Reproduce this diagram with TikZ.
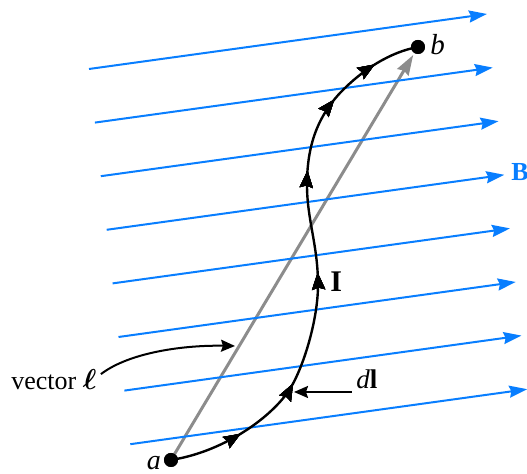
\documentclass[tikz,border=0pt]{standalone}
\usepackage{fontspec}
\setmainfont{Liberation Serif}
\usepackage{amsmath,amsbsy}
\usetikzlibrary{arrows.meta,decorations.markings}
\definecolor{fieldblue}{RGB}{8,126,255}
\definecolor{vecgray}{RGB}{140,140,140}
\tikzset{
  fieldline/.style={draw=fieldblue, line width=1pt, -{Stealth[length=9pt,width=6pt,inset=1pt]}},
  graytip/.style={draw=vecgray, line width=1.5pt, -{Stealth[length=10pt,width=6.5pt,inset=1pt]}},
  blacktip/.style={-{Stealth[length=7pt,width=6pt,inset=1pt]}},
  dotnode/.style={circle, fill=black, inner sep=0pt, minimum size=7pt},
  pathline/.style={draw=black, line width=1.2pt},
  curvetip/.style={decoration={markings, mark=at position #1 with {\arrow{Stealth[length=8.5pt,width=6.5pt,inset=1pt]}}}, postaction=decorate},
}
\begin{document}
\begin{tikzpicture}[x=0.5pt,y=-0.5pt]
\useasboundingbox (0,0) rectangle (527,474);

% end points
\node[dotnode] (a) at (171,460) {};
\node[dotnode] (b) at (418,47) {};

% vector l (gray)
\draw[graytip, shorten >=1pt] (a.center) -- (b);

% field lines
\foreach \i in {0,...,7}
  \draw[fieldline] ({89+5.9*\i},{69+53.6*\i}) -- ({487+5.75*\i},{14+53.6*\i});

% current path
\draw[pathline, curvetip=0.138, curvetip=0.273, curvetip=0.484, curvetip=0.673, curvetip=0.815, curvetip=0.914]
  (a.center) .. controls (222,452) and (268,420) .. (288,392)
             .. controls (303,370) and (318,320) .. (318,285)
             .. controls (318,245) and (307,220) .. (307,185)
             .. controls (307,150) and (315,120) .. (340,93)
             .. controls (362,70) and (390,52) .. (b.center);

\node[dotnode] at (a) {};
\node[dotnode] at (b) {};

% labels
\node[anchor=base, inner sep=0pt, text depth=0pt, font=\fontsize{14}{16}\selectfont\itshape] (alab) at (154,470) {a};
\node[anchor=base west, inner sep=0pt, font=\fontsize{14.5}{16}\selectfont\itshape] (blab) at (430,55) {b};
\node[anchor=base west, inner sep=0pt, text=fieldblue, font=\fontsize{13}{15}\selectfont\bfseries] (Blab) at (511,181) {B};
\node[anchor=base west, inner sep=0pt, font=\fontsize{15}{17}\selectfont\bfseries] (Ilab) at (330,292) {I};

% dl label with arrow
\coordinate (dltip) at (294,392);
\node[anchor=south west, inner xsep=2pt, inner ysep=1.5pt, font=\fontsize{13.5}{15}\selectfont] (dl) at (352,392) {\textit{d}\textbf{l}};
\draw[line width=1pt, blacktip] (dl.south west) -- (dltip);

% vector l label with arrow
\node[anchor=base west, inner sep=0pt, font=\fontsize{13}{15}\selectfont] (vlab) at (11,390) {vector {\fontsize{15}{17}\selectfont$\boldsymbol{\ell}$}};
\coordinate (vtip) at (235,346);
\draw[line width=1pt, blacktip] (vlab.east) ++(4,-6) .. controls (130,352) and (185,345) .. (vtip);
\end{tikzpicture}
\end{document}
